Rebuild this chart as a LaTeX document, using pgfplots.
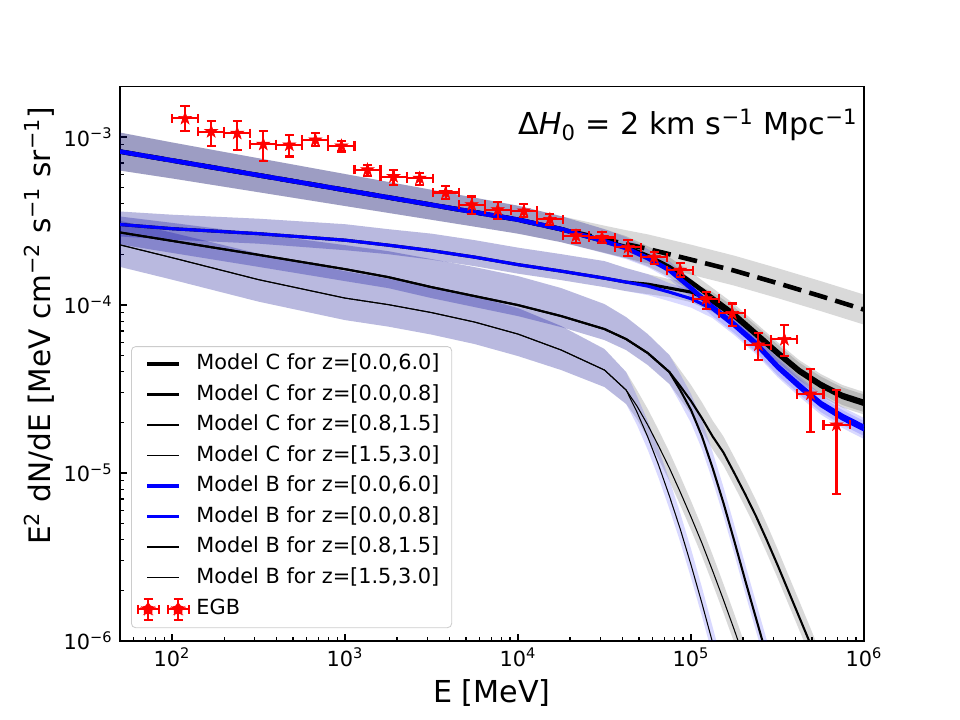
\documentclass[border=0pt]{standalone}
\usepackage{fontspec}
\setmainfont{DejaVu Sans}
\usepackage{pgfplots}
\pgfplotsset{compat=1.18}
\usepackage{pgfplotstable}

% filled five-pointed star
\pgfdeclareplotmark{fstar}{%
  \pgfpathmoveto{\pgfpointpolar{90}{\pgfplotmarksize}}%
  \pgfpathlineto{\pgfpointpolar{126}{0.382\pgfplotmarksize}}%
  \pgfpathlineto{\pgfpointpolar{162}{\pgfplotmarksize}}%
  \pgfpathlineto{\pgfpointpolar{198}{0.382\pgfplotmarksize}}%
  \pgfpathlineto{\pgfpointpolar{234}{\pgfplotmarksize}}%
  \pgfpathlineto{\pgfpointpolar{270}{0.382\pgfplotmarksize}}%
  \pgfpathlineto{\pgfpointpolar{306}{\pgfplotmarksize}}%
  \pgfpathlineto{\pgfpointpolar{342}{0.382\pgfplotmarksize}}%
  \pgfpathlineto{\pgfpointpolar{18}{\pgfplotmarksize}}%
  \pgfpathlineto{\pgfpointpolar{54}{0.382\pgfplotmarksize}}%
  \pgfpathclose
  \pgfusepathqfillstroke
}

% legend glyph for the EGB points
\newcommand{\egbglyph}[1]{%
  \begin{scope}[xshift=#1]
    \draw[red, line width=1pt] (-5pt,0pt) -- (5pt,0pt) (0pt,-5pt) -- (0pt,5pt)
      (-5pt,-2.2pt) -- (-5pt,2.2pt) (5pt,-2.2pt) -- (5pt,2.2pt)
      (-2.2pt,-5pt) -- (2.2pt,-5pt) (-2.2pt,5pt) -- (2.2pt,5pt);
    \fill[red, fill opacity=1] (90:3.2pt) -- (126:1.22pt) -- (162:3.2pt) -- (198:1.22pt)
      -- (234:3.2pt) -- (270:1.22pt) -- (306:3.2pt) -- (342:1.22pt) -- (18:3.2pt)
      -- (54:1.22pt) -- cycle;
  \end{scope}}

% ---------------- EGB measurement ----------------
\pgfplotstableread{
E F exm exp eym eyp
118.9 1.29e-3 18.9 22.5 2.0e-4 2.3e-4
168.3 1.077e-3 26.8 31.9 1.88e-4 1.73e-4
238.0 1.052e-3 37.9 45.1 2.15e-4 1.98e-4
336.7 9.05e-4 53.6 63.8 1.85e-4 1.85e-4
476.4 8.96e-4 75.9 90.2 1.31e-4 1.34e-4
673.8 9.6e-4 107.3 127.6 7.1e-5 9.0e-5
953.2 8.84e-4 151.8 180.5 6.5e-5 6.3e-5
1348 6.37e-4 214.6 255.3 4.8e-5 4.5e-5
1907 5.81e-4 303.6 361.2 6.3e-5 5.6e-5
2698 5.68e-4 429.5 511 5.0e-5 4.0e-5
3817 4.67e-4 607.7 723 4.1e-5 4.4e-5
5399 3.95e-4 859.5 1022.6 4.8e-5 4.7e-5
7637 3.69e-4 1215.8 1446.5 4.5e-5 4.0e-5
10804 3.63e-4 1720 2046 2.9e-5 3.5e-5
15284 3.23e-4 2433 2895 2.5e-5 2.4e-5
21621 2.58e-4 3442 4095 2.4e-5 2.3e-5
30585 2.52e-4 4869 5793 1.8e-5 2.0e-5
43265 2.20e-4 6888 8194 2.5e-5 2.5e-5
61202 1.92e-4 9743 11592 1.7e-5 1.5e-5
86576 1.61e-4 13783 16398 1.5e-5 1.6e-5
122470 1.09e-4 19497 23196 1.5e-5 1.1e-5
173250 8.9e-5 27582 32814 1.42e-5 1.3e-5
245080 5.77e-5 39017 46418 1.08e-5 1.0e-5
346690 6.23e-5 55193 65663 1.27e-5 1.35e-5
490430 2.95e-5 78076 92887 1.19e-5 1.2e-5
693750 1.93e-5 110445 131396 1.18e-5 1.18e-5
}\egb

% ---------------- median model curves ----------------
\pgfplotstableread{
E F
50 8.186e-4
100 7.247e-4
316.2 5.918e-4
1000 4.832e-4
1778 4.366e-4
3162 3.946e-4
5623 3.565e-4
10000 3.217e-4
17783 2.824e-4
31623 2.396e-4
42170 2.177e-4
56234 1.899e-4
74989 1.611e-4
100000 1.259e-4
133352 9.704e-5
177828 7.688e-5
237137 5.926e-5
316228 4.324e-5
421697 3.334e-5
562341 2.605e-5
749894 2.180e-5
1000000 1.876e-5
}\modelBall

\pgfplotstableread{
E F
50 8.186e-4
100 7.247e-4
316.2 5.918e-4
1000 4.832e-4
1778 4.366e-4
3162 3.946e-4
5623 3.565e-4
10000 3.217e-4
17783 2.824e-4
31623 2.396e-4
42170 2.207e-4
56234 1.952e-4
74989 1.678e-4
100000 1.367e-4
133352 1.098e-4
177828 8.817e-5
237137 6.797e-5
316228 5.240e-5
421697 4.094e-5
562341 3.380e-5
749894 2.907e-5
1000000 2.641e-5
}\modelCall

% Model C, intrinsic (no attenuation)
\pgfplotstableread{
E F
50 8.186e-4
100 7.247e-4
316.2 5.918e-4
1000 4.832e-4
1778 4.366e-4
3162 3.946e-4
5623 3.565e-4
10000 3.217e-4
17783 2.824e-4
31623 2.463e-4
42170 2.300e-4
56234 2.156e-4
100000 1.860e-4
177828 1.600e-4
316228 1.348e-4
562341 1.128e-4
1000000 9.377e-5
}\modelCint

\pgfplotstableread{
E F
50 3.012e-4
100 2.844e-4
316.2 2.656e-4
1000 2.429e-4
1778 2.269e-4
3162 2.104e-4
5623 1.925e-4
10000 1.737e-4
17783 1.589e-4
31623 1.443e-4
42170 1.367e-4
56234 1.294e-4
74989 1.192e-4
100000 1.090e-4
133352 9.441e-5
177828 7.479e-5
237137 5.766e-5
316228 4.207e-5
421697 3.221e-5
562341 2.518e-5
749894 2.092e-5
1000000 1.800e-5
}\modelBnear

\pgfplotstableread{
E F
50 3.012e-4
100 2.844e-4
316.2 2.656e-4
1000 2.429e-4
1778 2.269e-4
3162 2.104e-4
5623 1.925e-4
10000 1.737e-4
17783 1.589e-4
31623 1.443e-4
42170 1.367e-4
56234 1.329e-4
74989 1.259e-4
100000 1.192e-4
133352 1.039e-4
177828 8.460e-5
237137 6.568e-5
316228 5.063e-5
421697 3.957e-5
562341 3.266e-5
749894 2.809e-5
1000000 2.552e-5
}\modelCnear

\pgfplotstableread{
E F
50 2.700e-4
100 2.406e-4
316.2 1.987e-4
1000 1.633e-4
1778 1.464e-4
3162 1.276e-4
5623 1.128e-4
10000 9.973e-5
17783 8.578e-5
31623 7.180e-5
42170 6.260e-5
56234 5.168e-5
74989 3.985e-5
86596 3.112e-5
100000 2.367e-5
115478 1.658e-5
133352 1.069e-5
153993 6.622e-6
177828 3.936e-6
205353 2.306e-6
237137 1.370e-6
273842 8.144e-7
316228 4.840e-7
365174 2.875e-7
}\modelBmid

\pgfplotstableread{
E F
50 2.700e-4
100 2.406e-4
316.2 1.987e-4
1000 1.633e-4
1778 1.464e-4
3162 1.276e-4
5623 1.128e-4
10000 9.973e-5
17783 8.578e-5
31623 7.180e-5
42170 6.260e-5
56234 5.168e-5
74989 3.985e-5
86596 3.288e-5
100000 2.678e-5
115478 2.121e-5
133352 1.647e-5
153993 1.322e-5
177828 9.987e-6
205353 7.490e-6
237137 5.541e-6
273842 3.990e-6
316228 2.832e-6
365174 1.984e-6
421697 1.389e-6
486968 9.730e-7
562341 6.723e-7
649382 4.580e-7
}\modelCmid

\pgfplotstableread{
E F
50 2.278e-4
100 1.911e-4
316.2 1.414e-4
1000 1.098e-4
1778 1.004e-4
3162 9.001e-5
5623 7.901e-5
10000 6.704e-5
17783 5.385e-5
31623 4.094e-5
42170 3.112e-5
48697 2.303e-5
56234 1.635e-5
64938 1.114e-5
74989 7.288e-6
86596 4.638e-6
100000 2.832e-6
115478 1.683e-6
133352 9.730e-7
153993 5.549e-7
}\modelBfar

\pgfplotstableread{
E F
50 2.278e-4
100 1.911e-4
316.2 1.414e-4
1000 1.098e-4
1778 1.004e-4
3162 9.001e-5
5623 7.901e-5
10000 6.704e-5
17783 5.385e-5
31623 4.094e-5
42170 3.112e-5
48697 2.500e-5
56234 1.928e-5
64938 1.446e-5
74989 1.069e-5
86596 7.698e-6
100000 5.466e-6
115478 3.829e-6
133352 2.609e-6
153993 1.754e-6
177828 1.163e-6
205353 7.604e-7
237137 4.906e-7
}\modelCfar

% ---------------- uncertainty bands: upper edge, then lower edge back ----------------
\pgfplotstableread{
E B
50 1.062e-3
100 9.275e-4
316.2 7.469e-4
1000 6.016e-4
1778 5.399e-4
3162 4.846e-4
5623 4.348e-4
10000 3.897e-4
17783 3.375e-4
31623 2.963e-4
42170 2.786e-4
56234 2.630e-4
100000 2.284e-4
177828 1.965e-4
316228 1.656e-4
562341 1.386e-4
1000000 1.152e-4
1000000 7.635e-5
562341 9.186e-5
316228 1.098e-4
177828 1.303e-4
100000 1.514e-4
56234 1.768e-4
42170 1.899e-4
31623 2.047e-4
17783 2.363e-4
10000 2.656e-4
5623 2.923e-4
3162 3.213e-4
1778 3.531e-4
1000 3.881e-4
316.2 4.689e-4
100 5.664e-4
50 6.311e-4
}\bandCint

\pgfplotstableread{
E B
50 1.062e-3
100 9.275e-4
316.2 7.469e-4
1000 6.016e-4
1778 5.399e-4
3162 4.846e-4
5623 4.348e-4
10000 3.897e-4
17783 3.375e-4
31623 2.824e-4
42170 2.566e-4
56234 2.238e-4
74989 1.925e-4
100000 1.567e-4
133352 1.259e-4
177828 1.011e-4
237137 7.794e-5
316228 6.008e-5
421697 4.695e-5
562341 3.876e-5
749894 3.334e-5
1000000 3.029e-5
1000000 2.303e-5
749894 2.534e-5
562341 2.947e-5
421697 3.570e-5
316228 4.567e-5
237137 5.926e-5
177828 7.688e-5
133352 9.572e-5
100000 1.192e-4
74989 1.464e-4
56234 1.701e-4
42170 1.899e-4
31623 2.033e-4
17783 2.363e-4
10000 2.656e-4
5623 2.923e-4
3162 3.213e-4
1778 3.531e-4
1000 3.881e-4
316.2 4.689e-4
100 5.664e-4
50 6.311e-4
}\bandCall

\pgfplotstableread{
E B
50 1.062e-3
100 9.275e-4
316.2 7.469e-4
1000 6.016e-4
1778 5.399e-4
3162 4.846e-4
5623 4.348e-4
10000 3.897e-4
17783 3.375e-4
31623 2.824e-4
42170 2.531e-4
56234 2.147e-4
74989 1.823e-4
100000 1.424e-4
133352 1.098e-4
177828 8.697e-5
237137 6.704e-5
316228 4.892e-5
421697 3.771e-5
562341 2.947e-5
749894 2.466e-5
1000000 2.121e-5
1000000 1.658e-5
749894 1.928e-5
562341 2.303e-5
421697 2.947e-5
316228 3.823e-5
237137 5.240e-5
177828 6.797e-5
133352 8.578e-5
100000 1.113e-4
74989 1.424e-4
56234 1.678e-4
42170 1.873e-4
31623 2.033e-4
17783 2.363e-4
10000 2.656e-4
5623 2.923e-4
3162 3.213e-4
1778 3.531e-4
1000 3.881e-4
316.2 4.689e-4
100 5.664e-4
50 6.311e-4
}\bandBall

\pgfplotstableread{
E B
50 3.599e-4
100 3.444e-4
316.2 3.261e-4
1000 3.024e-4
1778 2.824e-4
3162 2.656e-4
5623 2.429e-4
10000 2.192e-4
17783 2.005e-4
31623 1.823e-4
42170 1.656e-4
56234 1.525e-4
74989 1.348e-4
100000 1.233e-4
133352 1.068e-4
177828 8.460e-5
237137 6.523e-5
316228 4.760e-5
421697 3.644e-5
562341 2.848e-5
749894 2.367e-5
1000000 2.036e-5
1000000 1.591e-5
749894 1.850e-5
562341 2.226e-5
421697 2.848e-5
316228 3.720e-5
237137 5.098e-5
177828 6.613e-5
133352 8.346e-5
100000 9.637e-5
74989 1.053e-4
56234 1.144e-4
42170 1.208e-4
31623 1.276e-4
17783 1.405e-4
10000 1.535e-4
5623 1.701e-4
3162 1.860e-4
1778 2.005e-4
1000 2.118e-4
316.2 2.316e-4
100 2.446e-4
50 2.556e-4
}\bandBnear

\pgfplotstableread{
E B
50 3.599e-4
100 3.444e-4
316.2 3.261e-4
1000 3.024e-4
1778 2.824e-4
3162 2.656e-4
5623 2.429e-4
10000 2.192e-4
17783 2.005e-4
31623 1.823e-4
42170 1.656e-4
56234 1.525e-4
74989 1.424e-4
100000 1.367e-4
133352 1.192e-4
177828 9.704e-5
237137 7.530e-5
316228 5.805e-5
421697 4.537e-5
562341 3.745e-5
749894 3.221e-5
1000000 2.927e-5
1000000 2.226e-5
749894 2.449e-5
562341 2.848e-5
421697 3.450e-5
316228 4.413e-5
237137 5.727e-5
177828 7.377e-5
133352 9.062e-5
100000 1.039e-4
74989 1.113e-4
56234 1.159e-4
42170 1.208e-4
31623 1.276e-4
17783 1.405e-4
10000 1.535e-4
5623 1.701e-4
3162 1.860e-4
1778 2.005e-4
1000 2.118e-4
316.2 2.316e-4
100 2.446e-4
50 2.556e-4
}\bandCnear

\pgfplotstableread{
E B
50 3.361e-4
100 3.079e-4
316.2 2.648e-4
1000 2.269e-4
1778 2.089e-4
3162 1.873e-4
5623 1.678e-4
10000 1.484e-4
17783 1.259e-4
31623 1.011e-4
42170 8.460e-5
56234 6.704e-5
74989 5.028e-5
86596 3.876e-5
100000 2.947e-5
115478 2.064e-5
133352 1.331e-5
153993 8.245e-6
177828 4.899e-6
205353 2.871e-6
237137 1.706e-6
273842 1.014e-6
316228 6.025e-7
365174 3.580e-7
365174 2.406e-7
316228 4.050e-7
273842 6.816e-7
237137 1.147e-6
205353 1.930e-6
177828 3.293e-6
153993 5.541e-6
133352 8.948e-6
115478 1.388e-5
100000 1.981e-5
86596 2.605e-5
74989 3.380e-5
56234 4.385e-5
42170 5.385e-5
31623 6.175e-5
17783 7.377e-5
10000 8.578e-5
5623 9.704e-5
3162 1.098e-4
1778 1.259e-4
1000 1.386e-4
316.2 1.685e-4
100 2.041e-4
50 2.291e-4
}\bandBmid

\pgfplotstableread{
E B
50 3.361e-4
100 3.079e-4
316.2 2.648e-4
1000 2.269e-4
1778 2.089e-4
3162 1.873e-4
5623 1.678e-4
10000 1.484e-4
17783 1.259e-4
31623 1.011e-4
42170 8.460e-5
56234 6.704e-5
74989 5.028e-5
86596 4.094e-5
100000 3.334e-5
115478 2.641e-5
133352 2.050e-5
153993 1.647e-5
177828 1.243e-5
205353 9.327e-6
237137 6.901e-6
273842 4.967e-6
316228 3.527e-6
365174 2.470e-6
421697 1.730e-6
486968 1.211e-6
562341 8.370e-7
649382 5.704e-7
649382 3.834e-7
562341 5.626e-7
486968 8.144e-7
421697 1.163e-6
365174 1.660e-6
316228 2.370e-6
273842 3.338e-6
237137 4.638e-6
205353 6.270e-6
177828 8.359e-6
153993 1.107e-5
133352 1.378e-5
115478 1.776e-5
100000 2.241e-5
86596 2.752e-5
74989 3.380e-5
56234 4.385e-5
42170 5.385e-5
31623 6.175e-5
17783 7.377e-5
10000 8.578e-5
5623 9.704e-5
3162 1.098e-4
1778 1.259e-4
1000 1.386e-4
316.2 1.685e-4
100 2.041e-4
50 2.291e-4
}\bandCmid

\pgfplotstableread{
E B
50 3.165e-4
100 2.692e-4
316.2 2.019e-4
1000 1.589e-4
1778 1.434e-4
3162 1.285e-4
5623 1.128e-4
10000 9.572e-5
17783 7.479e-5
31623 5.460e-5
42170 3.985e-5
48697 2.867e-5
56234 2.036e-5
64938 1.388e-5
74989 9.075e-6
86596 5.774e-6
100000 3.527e-6
115478 2.096e-6
133352 1.211e-6
153993 6.910e-7
153993 4.644e-7
133352 8.144e-7
115478 1.409e-6
100000 2.370e-6
86596 3.881e-6
74989 6.100e-6
64938 9.327e-6
56234 1.369e-5
48697 1.928e-5
42170 2.570e-5
31623 3.243e-5
17783 4.094e-5
10000 4.959e-5
5623 5.846e-5
3162 6.658e-5
1778 7.428e-5
1000 8.122e-5
316.2 1.046e-4
100 1.414e-4
50 1.685e-4
}\bandBfar

\pgfplotstableread{
E B
50 3.165e-4
100 2.692e-4
316.2 2.019e-4
1000 1.589e-4
1778 1.434e-4
3162 1.285e-4
5623 1.128e-4
10000 9.572e-5
17783 7.479e-5
31623 5.460e-5
42170 3.985e-5
48697 3.112e-5
56234 2.400e-5
64938 1.800e-5
74989 1.331e-5
86596 9.585e-6
100000 6.806e-6
115478 4.767e-6
133352 3.248e-6
153993 2.183e-6
177828 1.448e-6
205353 9.468e-7
237137 6.108e-7
237137 4.106e-7
205353 6.363e-7
177828 9.730e-7
153993 1.468e-6
133352 2.183e-6
115478 3.204e-6
100000 4.575e-6
86596 6.444e-6
74989 8.948e-6
64938 1.210e-5
56234 1.613e-5
48697 2.092e-5
42170 2.570e-5
31623 3.243e-5
17783 4.094e-5
10000 4.959e-5
5623 5.846e-5
3162 6.658e-5
1778 7.428e-5
1000 8.122e-5
316.2 1.046e-4
100 1.414e-4
50 1.685e-4
}\bandCfar

\begin{document}
\begin{tikzpicture}
\path[use as bounding box] (-57.6pt,-38.016pt) rectangle (403.2pt,307.584pt);
\begin{axis}[
  at={(0pt,0pt)}, anchor=south west,
  scale only axis, width=357.12pt, height=266.11pt,
  xmode=log, ymode=log, log basis x=10, log basis y=10,
  xmin=50, xmax=1e6, ymin=1e-6, ymax=2e-3,
  axis line style={line width=0.8pt},
  tick align=inside, tick pos=left,
  major tick length=3.5pt, minor tick length=2pt,
  major tick style={line width=0.8pt, black},
  minor tick style={line width=0.6pt, black},
  xtick={1e2,1e3,1e4,1e5,1e6},
  xticklabels={10\textsuperscript{2},10\textsuperscript{3},10\textsuperscript{4},10\textsuperscript{5},10\textsuperscript{6}},
  minor xtick={60,70,80,90,200,300,400,500,600,700,800,900,2000,3000,4000,5000,6000,7000,8000,9000,2e4,3e4,4e4,5e4,6e4,7e4,8e4,9e4,2e5,3e5,4e5,5e5,6e5,7e5,8e5,9e5},
  ytick={1e-6,1e-5,1e-4,1e-3},
  yticklabels={10\textsuperscript{−6},10\textsuperscript{−5},10\textsuperscript{−4},10\textsuperscript{−3}},
  minor ytick={2e-6,3e-6,4e-6,5e-6,6e-6,7e-6,8e-6,9e-6,2e-5,3e-5,4e-5,5e-5,6e-5,7e-5,8e-5,9e-5,2e-4,3e-4,4e-4,5e-4,6e-4,7e-4,8e-4,9e-4,2e-3},
  ticklabel style={font=\fontsize{10}{12}\selectfont},
  legend image code/.code={\draw[#1] (0pt,0pt) -- (15.4pt,0pt);},
  legend cell align=left,
  legend style={at={(0,0)}, anchor=south west, xshift=5.3pt, yshift=6.1pt,
    draw=black!20, rounded corners=2pt, fill=white, fill opacity=0.8,
    draw opacity=1, text opacity=1,
    font=\fontsize{10}{12}\selectfont,
    inner xsep=2.5pt, inner ysep=3.4pt, row sep=4.64pt, column sep=0pt,
    nodes={inner xsep=3.3pt, inner ysep=0pt, text height=7.6pt, text depth=2.4pt}},
]
\addlegendimage{black, line width=2.2pt}\addlegendentry{Model C for z=[0.0,6.0]}
\addlegendimage{black, line width=1.5pt}\addlegendentry{Model C for z=[0.0,0.8]}
\addlegendimage{black, line width=1.0pt}\addlegendentry{Model C for z=[0.8,1.5]}
\addlegendimage{black, line width=0.5pt}\addlegendentry{Model C for z=[1.5,3.0]}
\addlegendimage{blue, line width=2.2pt}\addlegendentry{Model B for z=[0.0,6.0]}
\addlegendimage{blue, line width=1.5pt}\addlegendentry{Model B for z=[0.0,0.8]}
\addlegendimage{black, line width=1.0pt}\addlegendentry{Model B for z=[0.8,1.5]}
\addlegendimage{black, line width=0.5pt}\addlegendentry{Model B for z=[1.5,3.0]}
\addlegendimage{legend image code/.code={\egbglyph{0.5pt}\egbglyph{14.9pt}}}\addlegendentry{EGB}

% uncertainty bands
\addplot[fill=black, fill opacity=0.15, draw=none, forget plot] table[x=E,y=B]{\bandCint};
\addplot[fill=black, fill opacity=0.15, draw=none, forget plot] table[x=E,y=B]{\bandCall};
\addplot[fill=black, fill opacity=0.15, draw=none, forget plot] table[x=E,y=B]{\bandCnear};
\addplot[fill=black, fill opacity=0.15, draw=none, forget plot] table[x=E,y=B]{\bandCmid};
\addplot[fill=black, fill opacity=0.15, draw=none, forget plot] table[x=E,y=B]{\bandCfar};
\addplot[fill=blue, fill opacity=0.15, draw=none, forget plot] table[x=E,y=B]{\bandBall};
\addplot[fill=blue, fill opacity=0.15, draw=none, forget plot] table[x=E,y=B]{\bandBnear};
\addplot[fill=blue, fill opacity=0.15, draw=none, forget plot] table[x=E,y=B]{\bandBmid};
\addplot[fill=blue, fill opacity=0.15, draw=none, forget plot] table[x=E,y=B]{\bandBfar};

% central curves
\addplot[black, line width=2.2pt, dash pattern=on 9pt off 4pt, forget plot] table[x=E,y=F]{\modelCint};
\addplot[black, line width=2.2pt, line join=round, forget plot] table[x=E,y=F]{\modelCall};
\addplot[black, line width=1.5pt, line join=round, forget plot] table[x=E,y=F]{\modelCnear};
\addplot[black, line width=1.0pt, line join=round, forget plot] table[x=E,y=F]{\modelCmid};
\addplot[black, line width=0.5pt, line join=round, forget plot] table[x=E,y=F]{\modelCfar};
\addplot[blue, line width=2.2pt, line join=round, forget plot] table[x=E,y=F]{\modelBall};
\addplot[blue, line width=1.5pt, line join=round, forget plot] table[x=E,y=F]{\modelBnear};
\addplot[black, line width=1.0pt, line join=round, forget plot] table[x=E,y=F]{\modelBmid};
\addplot[black, line width=0.5pt, line join=round, forget plot] table[x=E,y=F]{\modelBfar};

% EGB data
\addplot[forget plot, only marks, red, mark=fstar, mark size=3.2pt,
  mark options={fill=red, draw=red, line width=0.3pt},
  error bars/.cd, x dir=both, x explicit, y dir=both, y explicit,
  error bar style={line width=1pt, red},
  error mark options={rotate=90, line width=1pt, red, mark size=2.2pt}]
  table[x=E, y=F, x error plus=exp, x error minus=exm, y error plus=eyp, y error minus=eym]{\egb};
\end{axis}

\node[anchor=base east, inner sep=0pt, font=\fontsize{14.5}{17}\selectfont] at (354.2pt,242.8pt)
  {Δ\textit{H}\textsubscript{0} = 2 km s\textsuperscript{−1} Mpc\textsuperscript{−1}};
\node[anchor=base, inner sep=0pt, font=\fontsize{14.5}{17}\selectfont] at (178.56pt,-29.8pt) {E [MeV]};
\node[anchor=base, rotate=90, inner sep=0pt, font=\fontsize{14.2}{17}\selectfont] at (-33.4pt,151.2pt)
  {E\textsuperscript{2} dN/dE [MeV cm\textsuperscript{−2} s\textsuperscript{−1} sr\textsuperscript{−1}]};
\end{tikzpicture}
\end{document}
